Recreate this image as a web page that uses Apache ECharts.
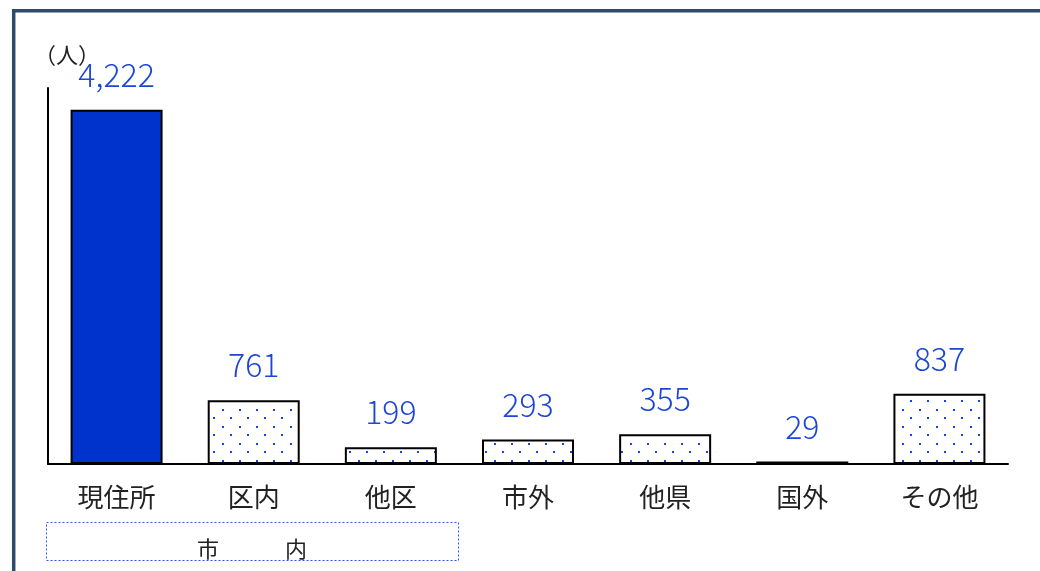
<!DOCTYPE html>
<html><head><meta charset="utf-8">
<script src="https://cdn.jsdelivr.net/npm/echarts@6/dist/echarts.min.js"></script>
<style>html,body{margin:0;padding:0;background:#fff}#c{width:1040px;height:571px}</style>
</head><body><div id="c"></div>
<script>
const categories = ['現住所', '区内', '他区', '市外', '他県', '国外', 'その他'];
const values = [4222, 761, 199, 293, 355, 29, 837];
const unitLabel = '（人）';
const groupLabel = ['市', '内'];

const FONT = '"Noto Sans CJK JP", "Noto Sans", sans-serif';
const BLUE_TXT = '#1d46d2';

// dotted pattern
const pc = document.createElement('canvas');
pc.width = 17; pc.height = 17;
const pctx = pc.getContext('2d');
pctx.fillStyle = '#ffffff'; pctx.fillRect(0, 0, 17, 17);
pctx.fillStyle = '#0f45ea';
pctx.fillRect(1, 1, 2, 2);
pctx.fillRect(9, 9, 2, 2);

const chart = echarts.init(document.getElementById('c'), null, {renderer: 'canvas'});
const data = values.map((v, i) => ({
  value: v,
  itemStyle: i === 0 ? {color: '#0033cc'} : {color: {image: pc, repeat: 'repeat'}}
}));

chart.setOption({
  animation: false,
  grid: {left: 48, right: 32, top: 88, bottom: 107},
  xAxis: {
    type: 'category', data: categories, boundaryGap: true,
    axisLine: {lineStyle: {color: '#000', width: 2}},
    axisTick: {inside: true, length: 7, lineStyle: {color: '#000', width: 2}},
    axisLabel: {color: '#222', fontSize: 26, fontFamily: FONT, margin: 20}
  },
  yAxis: {
    type: 'value', min: 0, max: 4480,
    axisLine: {show: true, lineStyle: {color: '#000', width: 2}},
    axisTick: {show: false}, axisLabel: {show: false}, splitLine: {show: false}
  },
  series: [{
    type: 'bar', data: data, barWidth: 92,
    itemStyle: {borderColor: '#000', borderWidth: 2},
    label: {
      show: true, position: 'top', distance: 19,
      color: BLUE_TXT, fontSize: 32, fontWeight: 300, fontFamily: FONT,
      formatter: p => p.value.toLocaleString('en-US')
    }
  }],
  graphic: [
    {type: 'rect', shape: {x: 13.7, y: 10.8, width: 1200, height: 800},
     style: {fill: 'none', stroke: '#2f4a6b', lineWidth: 3.5}, silent: true},
    {type: 'text', left: 34, top: 44,
     style: {text: unitLabel, fontSize: 22, fontFamily: FONT, fill: '#222'}},
    {type: 'rect', shape: {x: 46.5, y: 522.5, width: 412, height: 38},
     style: {fill: 'none', stroke: '#2a55dd', lineWidth: 1, lineDash: [2, 2]}},
    {type: 'text', x: 208, y: 549,
     style: {text: groupLabel[0], fontSize: 22, fontFamily: FONT, fill: '#222', align: 'center', verticalAlign: 'middle'}},
    {type: 'text', x: 296, y: 549,
     style: {text: groupLabel[1], fontSize: 22, fontFamily: FONT, fill: '#222', align: 'center', verticalAlign: 'middle'}}
  ]
});
</script></body></html>
